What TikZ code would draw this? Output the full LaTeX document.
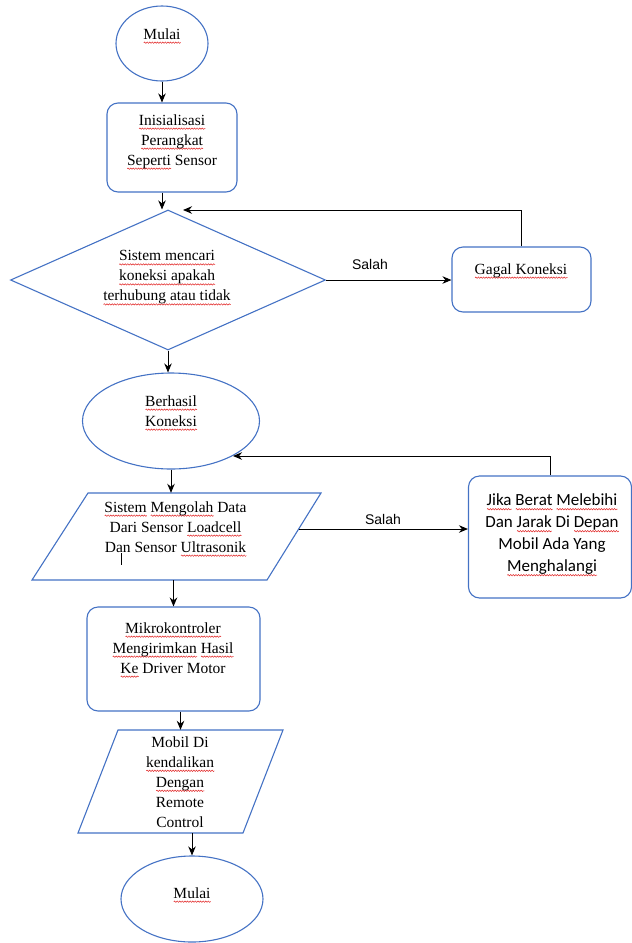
\documentclass[tikz,border=0pt]{standalone}
\usepackage{fontspec}
\setmainfont{Liberation Serif}
\newfontfamily\serf{Liberation Serif}
\newfontfamily\calfont{Carlito}
\newfontfamily\arialf{Liberation Sans}
\usetikzlibrary{shapes.geometric,arrows.meta,calc,decorations.pathmorphing}
\definecolor{bl}{RGB}{68,114,196}
\definecolor{spell}{RGB}{225,35,35}
\newsavebox\sqbox
\newcommand\sq[1]{\sbox\sqbox{#1}\rlap{\tikz[baseline=0pt]\draw[spell,line width=0.5pt,decorate,decoration={snake,amplitude=0.7pt,segment length=2.6pt}] (0pt,-3.5pt) -- (\the\wd\sqbox,-3.5pt);}\usebox\sqbox}
\tikzset{
  shp/.style={draw=bl, line width=1.1pt, inner sep=0pt},
  ell/.style={shp, ellipse},
  rbox/.style={shp, rectangle, rounded corners=11pt},
  paraline/.style={draw=bl, line width=1.1pt, line join=miter},
  frame/.style={rectangle, inner sep=0pt},
  arr/.style={-{Stealth[length=9pt,width=7.5pt]}, line width=1pt, black},
  txt/.style={align=center, inner sep=0pt, font=\serf\fontsize{15.5}{20}\selectfont},
  txtc/.style={align=center, inner sep=0pt, font=\calfont\fontsize{17}{22}\selectfont},
  lbl/.style={inner sep=0pt, font=\arialf\fontsize{14}{16}\selectfont}
}
\begin{document}
\begin{tikzpicture}[x=1pt,y=-1pt]
\useasboundingbox (0,0) rectangle (632,943);
% shapes
\node[ell, minimum width=92, minimum height=75] (m1) at (162,43.5) {};
\node[rbox, minimum width=130, minimum height=89] (r1) at (172,147.5) {};
\node[shp, diamond, aspect=2.25, minimum width=315, minimum height=140] (d) at (168,280) {};
\node[rbox, minimum width=139, minimum height=65] (g) at (521.5,279.5) {};
\node[ell, minimum width=177, minimum height=96] (b) at (171,421) {};
% parallelogram 1
\node[frame, minimum width=289, minimum height=87] (p1) at (176.5,536.5) {};
\draw[paraline] (88,493) -- (321,493) -- (267,580) -- (32,580) -- cycle;
\coordinate (p1r) at (299,529);
\node[rbox, minimum width=163, minimum height=122] (j) at (550,537) {};
\node[rbox, minimum width=173, minimum height=104] (k) at (173.5,659) {};
% parallelogram 2
\node[frame, minimum width=205, minimum height=103] (p2) at (180.5,781.5) {};
\draw[paraline] (118,730) -- (283,730) -- (243,833) -- (78,833) -- cycle;
\node[ell, minimum width=142, minimum height=86] (m2) at (192,899) {};
% texts
\node[txt] (t1) at (162,36) {\sq{Mulai}};
\node[txt] (t2) at (172,142) {\sq{Inisialisasi}\\\sq{Perangkat}\\\sq{Seperti} Sensor};
\node[txt] (t3) at (167,278) {\sq{Sistem mencari}\\\sq{koneksi apakah}\\\sq{terhubung atau tidak}};
\node[lbl] (s1) at (370,264) {Salah};
\node[txt] (t4) at (521,271) {\sq{Gagal Koneksi}};
\node[txt] (t5) at (171,413) {\sq{Berhasil}\\\sq{Koneksi}};
\node[txt] (t6) at (175.5,529) {\sq{Sistem} \sq{Mengolah} Data\\Dari Sensor \sq{Loadcell}\\Dan Sensor \sq{Ultrasonik}};
\node[lbl] (s2) at (383,519) {Salah};
\node[txtc] (t7) at (552,535) {\sq{Jika} \sq{Berat} \sq{Melebihi}\\Dan \sq{Jarak} Di \sq{Depan}\\Mobil Ada Yang\\\sq{Menghalangi}};
\node[txt] (t8) at (173,650) {\sq{Mikrokontroler}\\\sq{Mengirimkan} \sq{Hasil}\\\sq{Ke} Driver Motor};
\node[txt] (t9) at (180,782) {Mobil Di\\\sq{kendalikan}\\\sq{Dengan}\\Remote\\Control};
\node[txt] (t10) at (192,895) {\sq{Mulai}};
% stray tick
\draw[line width=0.6pt] (121,553) -- (121,565);
% connectors
\coordinate (fb1) at (183,210);
\coordinate (fb2) at (233,456);
\draw[arr] (m1.south) -- (m1.south |- r1.north);
\draw[arr] (r1.south -| m1.south) -- (d.north -| m1.south);
\draw[arr] (d.east) -- (d.east -| g.west);
\draw[arr] (g.north) |- (fb1);
\draw[arr] (d.south) -- (d.south |- b.north);
\draw[arr] (b.south) -- (b.south |- p1.north);
\draw[arr] (p1r) -- (p1r -| j.west);
\draw[arr] (j.north) |- (fb2);
\draw[arr] (k.north |- p1.south) -- (k.north);
\draw[arr] (p2.center |- k.south) -- (p2.center |- p2.north);
\draw[arr] (m2.north |- p2.south) -- (m2.north);
\end{tikzpicture}
\end{document}
